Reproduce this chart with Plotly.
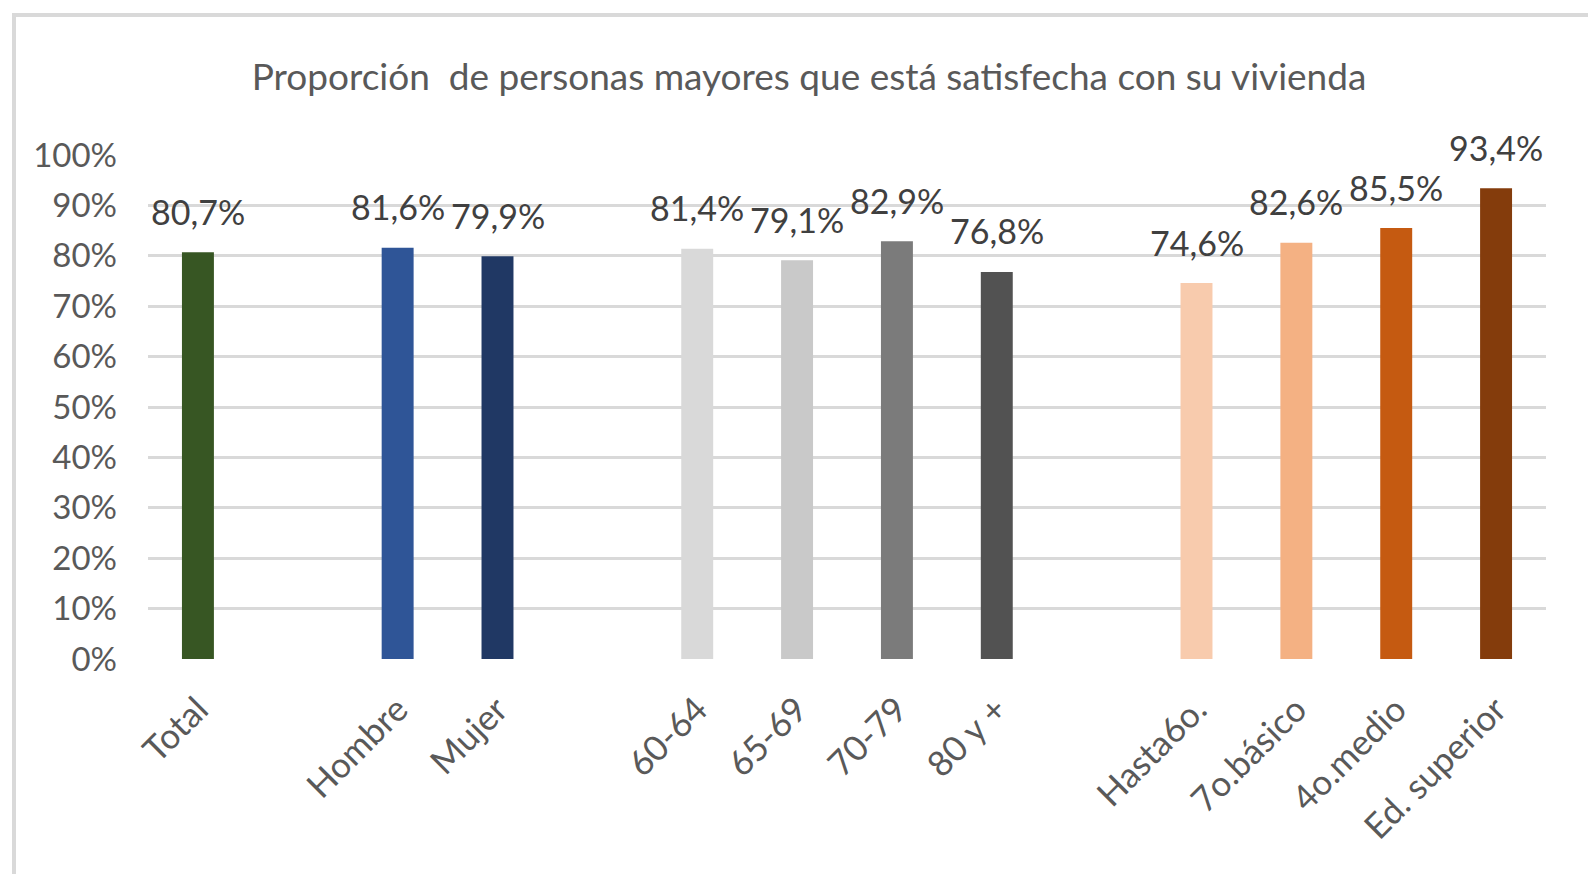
import plotly.graph_objects as go

categories = ["Total", " ", "Hombre", "Mujer", "  ", "60-64", "65-69", "70-79", "80 y +",
              "   ", "Hasta6o.", "7o.básico", "4o.medio", "Ed. superior"]
values = [80.7, None, 81.6, 79.9, None, 81.4, 79.1, 82.9, 76.8, None, 74.6, 82.6, 85.5, 93.4]
labels = ["80,7%", "", "81,6%", "79,9%", "", "81,4%", "79,1%", "82,9%", "76,8%", "",
          "74,6%", "82,6%", "85,5%", "93,4%"]
colors = ["#375623", "#ffffff", "#2F5597", "#203864", "#ffffff", "#D9D9D9", "#C9C9C9",
          "#7B7B7B", "#525252", "#ffffff", "#F8CBAD", "#F4B183", "#C55A11", "#843C0C"]
y_ticks = [0, 10, 20, 30, 40, 50, 60, 70, 80, 90, 100]
y_ticktext = [f"{v}%" for v in y_ticks]
title = "Proporción&nbsp; de personas mayores que está satisfecha con su vivienda"

FONT = "Lato"
L, R, T, B = 140, 58, 147, 223
W, H = 1596, 874
pw, ph = W - L - R, H - T - B

fig = go.Figure()
fig.add_trace(go.Bar(x=categories, y=values, marker=dict(color=colors, line=dict(width=0)),
                     width=0.32, hoverinfo="skip", showlegend=False))

for c, v, t in zip(categories, values, labels):
    if v is None:
        continue
    fig.add_annotation(x=c, y=v, text=t, showarrow=False, yshift=41, yanchor="middle",
                       font=dict(family=FONT, size=34, color="#404040"))

fig.add_shape(type="rect", xref="paper", yref="paper",
              x0=(6 - L) / pw, x1=(1594 - L) / pw,
              y0=(H - B - 872) / ph, y1=(H - B - 7) / ph,
              line=dict(color="#D9D9D9", width=4), fillcolor="rgba(0,0,0,0)", layer="below")

fig.update_layout(
    width=W, height=H,
    margin=dict(l=L, r=R, t=T, b=B),
    paper_bgcolor="white", plot_bgcolor="white",
    title=dict(text=title, x=(801 - L) / pw, xanchor="center", xref="paper",
               y=1 - 69 / H, yanchor="middle",
               font=dict(family=FONT, size=37, color="#595959")),
    xaxis=dict(type="category", categoryorder="array", categoryarray=categories,
               tickangle=-45, showgrid=False, showline=False, zeroline=False, ticks="",
               automargin=False, ticklabelstandoff=22,
               tickfont=dict(family=FONT, size=35, color="#595959")),
    yaxis=dict(range=[0, 100], tickvals=y_ticks, ticktext=y_ticktext, showgrid=True,
               gridcolor="#D9D9D9", gridwidth=3, zeroline=False, showline=False, ticks="",
               automargin=False, ticklabelstandoff=30,
               tickfont=dict(family=FONT, size=33, color="#595959")),
)

fig.write_html("out.html")
